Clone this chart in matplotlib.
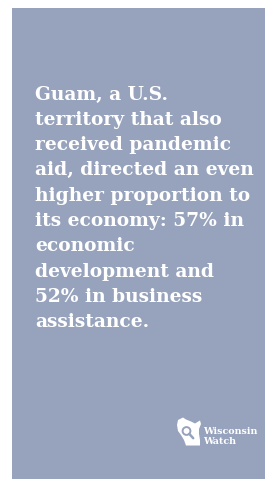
import matplotlib
matplotlib.use("Agg")
import matplotlib.pyplot as plt
from matplotlib.patches import Rectangle, Polygon, Circle

W, H = 268, 479
BG = "#97a3bc"

lines = [
    "Guam, a U.S.",
    "territory that also",
    "received pandemic",
    "aid, directed an even",
    "higher proportion to",
    "its economy: 57% in",
    "economic",
    "development and",
    "52% in business",
    "assistance.",
]
logo_lines = ["Wisconsin", "Watch"]

fig = plt.figure(figsize=(W / 100, H / 100), dpi=100)
ax = fig.add_axes([0, 0, 1, 1])
ax.set_xlim(0, W)
ax.set_ylim(H, 0)
ax.axis("off")
fig.patch.set_facecolor("white")

ax.add_patch(Rectangle((12, 8), 253, H - 8, facecolor=BG, edgecolor="none"))

x0, y0, pitch = 35, 99.5, 25.3
for i, s in enumerate(lines):
    ax.text(x0, y0 + i * pitch, s, family="DejaVu Serif", fontweight="bold",
            fontsize=13.4, color="white", va="baseline", ha="left")

# logo: state silhouette with magnifier
state = [(178, 420), (183, 417.5), (186, 419.5), (191, 421.5), (195, 423.5), (200, 420.5),
         (201, 424), (199, 429), (199, 434), (200, 440), (200, 445.5), (186, 445.5),
         (184, 440), (181, 435), (178, 431), (177, 425)]
ax.add_patch(Polygon(state, closed=True, facecolor="white", edgecolor="none"))
ax.add_patch(Circle((186.5, 431), 3.9, facecolor="white", edgecolor=BG, linewidth=1.4))
ax.plot([189.3, 193.2], [433.9, 438.2], color=BG, linewidth=1.8, solid_capstyle="round")

for i, s in enumerate(logo_lines):
    ax.text(203, 434.5 + i * 9, s, family="DejaVu Serif", fontweight="bold",
            fontsize=6.8, color="white", va="baseline", ha="left")

fig.savefig("out.png", dpi=100, facecolor="white")
